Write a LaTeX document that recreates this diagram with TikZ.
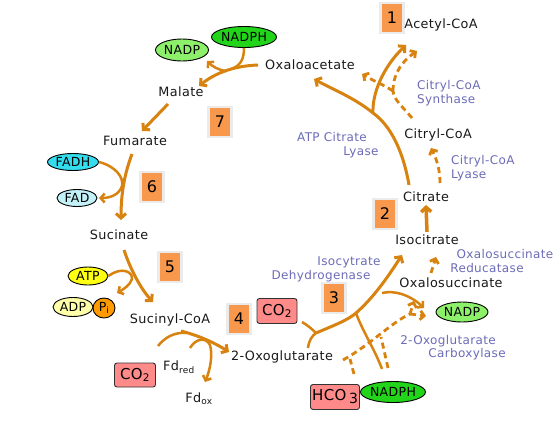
\documentclass[tikz,border=0pt]{standalone}
\usepackage{fontspec}
\setmainfont{DejaVu Sans}[LetterSpace=3]
\usetikzlibrary{arrows.meta,shapes.geometric}
\definecolor{arr}{HTML}{D8820F}
\definecolor{numc}{HTML}{F8984C}
\definecolor{lbl}{HTML}{6C6CB8}
\definecolor{nadpc}{HTML}{8DF06A}
\definecolor{nadphc}{HTML}{22D41A}
\definecolor{fadhc}{HTML}{33DDEE}
\definecolor{fadc}{HTML}{C2F2F8}
\definecolor{atpc}{HTML}{FFFF11}
\definecolor{adpc}{HTML}{FFFFAA}
\definecolor{pic}{HTML}{FF9A00}
\definecolor{co2c}{HTML}{FF8A8A}
\begin{document}
\begin{tikzpicture}[x=1pt,y=-1pt,
  met/.style={inner sep=0pt, font=\fontsize{12.8}{14}\selectfont, text=black!90},
  enz/.style={inner sep=0pt, font=\fontsize{12}{14}\selectfont, text=lbl},
  numbox/.style={fill=numc, draw=black!8, line width=2.5pt, minimum width=23pt, minimum height=30pt, inner sep=0pt, font=\fontsize{16}{18}\selectfont},
  ell/.style={ellipse, draw=black, line width=0.9pt, inner sep=0pt, font=\fontsize{12.5}{13}\selectfont},
  inorg/.style={rectangle, rounded corners=2.5pt, draw=black!80, line width=0.9pt, fill=co2c, inner sep=0pt, font=\fontsize{15}{16}\selectfont},
  flow/.style={draw=arr, line width=3pt, -{Straight Barb[length=4.5pt,width=10pt]}},
  side/.style={draw=arr, line width=2.5pt},
  sideflow/.style={draw=arr, line width=2.5pt, -{Straight Barb[length=4pt,width=9pt]}},
  dflow/.style={draw=arr, line width=2.8pt, dash pattern=on 6pt off 4pt, -{Straight Barb[length=4pt,width=9pt]}},
  dline/.style={draw=arr, line width=2.8pt, dash pattern=on 6pt off 4pt}
]
\fill[white] (0,0) rectangle (554,440);
\useasboundingbox (0,0) rectangle (554,440);

% number boxes
\node[numbox] (n1) at (392,18) {1};
\node[numbox] (n2) at (385,214) {2};
\node[numbox] (n3) at (334,298) {3};
\node[numbox] (n4) at (239,319) {4};
\node[numbox] (n5) at (170,267) {5};
\node[numbox] (n6) at (152,187) {6};
\node[numbox] (n7) at (220,122) {7};

% metabolites
\node[met] (acoa) at (441,25) {Acetyl-CoA};
\node[met] (oaa) at (310,65) {Oxaloacetate};
\node[met] (mal) at (181,92) {Malate};
\node[met] (fum) at (135,141) {Fumarate};
\node[met] (suc) at (119,235) {Sucinate};
\node[met] (scoa) at (170,320) {Sucinyl-CoA};
\node[met] (oxg) at (282,357) {2-Oxoglutarate};
\node[met] (iso) at (427,240) {Isocitrate};
\node[met] (cit) at (426,197) {Citrate};
\node[met] (ccoa) at (438,135) {Citryl-CoA};
\node[met] (oxs) at (451,283) {Oxalosuccinate};
\node[met] (fdr) at (179,367) {Fd\textsubscript{red}};
\node[met] (fdo) at (199,399) {Fd\textsubscript{ox}};

% enzymes
\node[enz, anchor=west, align=left] (ccs) at (417,93) {Citryl-CoA\\Synthase};
\node[enz, anchor=west, align=left] (ccl) at (451,168) {Citryl-CoA\\Lyase};
\node[enz] (acl1) at (332,137) {ATP Citrate};
\node[enz] (acl2) at (361,152) {Lyase};
\node[enz] (idh1) at (349,262) {Isocytrate};
\node[enz] (idh2) at (321,276) {Dehydrogenase};
\node[enz] (osr1) at (505,254) {Oxalosuccinate};
\node[enz] (osr2) at (487,268) {Reducatase};
\node[enz] (ogc1) at (448,341) {2-Oxoglutarate};
\node[enz] (ogc2) at (467,354) {Carboxylase};

% cofactors
\node[ell, fill=nadpc, minimum width=53pt, minimum height=22pt] (nadp1) at (182,50) {NADP};
\node[ell, fill=nadphc, minimum width=53pt, minimum height=21pt] (nadph1) at (244,37) {NADPH};
\node[ell, fill=fadhc, minimum width=51pt, minimum height=17pt] (fadh) at (73,162) {FADH};
\node[ell, fill=fadc, minimum width=40pt, minimum height=17pt] (fad) at (77,198) {FAD};
\node[ell, fill=atpc, minimum width=40pt, minimum height=18pt] (atp) at (88,276) {ATP};
\node[ell, fill=adpc, minimum width=40pt, minimum height=19pt] (adp) at (73,307) {ADP};
\node[ell, fill=pic, minimum width=22pt, minimum height=20pt] (pi) at (104,308) {P\textsubscript{i}};
\node[ell, fill=nadpc, minimum width=52pt, minimum height=20pt] (nadp2) at (462,312) {NADP};
\node[ell, fill=nadphc, minimum width=53pt, minimum height=21pt] (nadph2) at (393,392) {NADPH};

\node[inorg, minimum width=41pt, minimum height=24pt] (co2a) at (135,375) {CO\textsubscript{2}};
\node[inorg, minimum width=40pt, minimum height=25pt] (co2b) at (277,311) {CO\textsubscript{2}};
\node[inorg, minimum width=49pt, minimum height=25pt] (hco3) at (335,397) {HCO\,\raisebox{-3pt}{\fontsize{14}{14}\selectfont 3}};

% 7: OAA -> Malate
\draw[flow] (258,65) .. controls (232,66) and (214,74) .. (199,86);
\draw[side] (nadph1.south) .. controls (244,60) and (240,66) .. (231,69);
\draw[sideflow] (226,71) .. controls (218,70) and (212,66) .. (207,61);
% Malate -> Fumarate
\draw[flow] (168,104) -- (142,131);
% 6: Fumarate -> Sucinate
\draw[flow] (132,154) .. controls (124,175) and (121,195) .. (121,220);
\draw[sideflow] (fadh.east) .. controls (115,166) and (124,177) .. (122,186) .. controls (119,195) and (110,198) .. (99,198);
% 5: Sucinate -> Sucinyl-CoA
\draw[flow] (124,250) .. controls (130,268) and (140,288) .. (153,302);
\draw[sideflow] (atp.east) .. controls (122,266) and (133,272) .. (132,279) .. controls (130,285) and (124,289) .. (117,293);
% 4: Sucinyl-CoA -> 2-Oxoglutarate
\draw[flow] (181,331) .. controls (200,336) and (215,343) .. (229,352);
\draw[side] (158,346) .. controls (165,337) and (175,332) .. (186,333);
\draw[sideflow] (190,348) .. controls (196,338) and (206,337) .. (210,345) .. controls (213,355) and (210,370) .. (205,382);
% 3: 2-Oxoglutarate -> Isocitrate
\coordinate (j1) at (316,333);
\coordinate (j2) at (356,313);
\draw[side] (j1) .. controls (311,328) and (307,325) .. (302,322);
\draw[side] (308,348) .. controls (309,340) and (312,336) .. (j1);
\draw[side, line width=3pt] (j1) .. controls (335,325) and (348,320) .. (j2);
\draw[flow] (j2) .. controls (372,299) and (386,280) .. (402,255);
\draw[side] (382,369) .. controls (375,350) and (362,330) .. (j2);
\draw[sideflow] (382,293) .. controls (395,290) and (410,295) .. (424,308);
% dashed carboxylase route
\draw[dline] (354,374) -- (350,359);
\draw[dline] (343,360) .. controls (370,345) and (392,322) .. (410,314);
\draw[dline] (388,368) -- (381,337);
\draw[dflow] (410,314) -- (414,301);
\draw[dflow] (410,314) -- (426,316);
\draw[dflow] (431,273) -- (436,257);
% 2: Isocitrate -> Citrate
\draw[flow, line width=3.5pt] (iso.north) ++(0,-3) -- (426,205);
\draw[dflow] (440,183) .. controls (440,170) and (437,160) .. (431,148);
% 1: Citrate -> OAA / Acetyl-CoA
\coordinate (j3) at (373,113);
\draw[side, line width=3pt] (409,185) .. controls (403,150) and (390,125) .. (j3);
\draw[flow] (j3) .. controls (355,98) and (330,88) .. (314,79);
\draw[flow] (j3) .. controls (372,95) and (382,68) .. (406,45);
\coordinate (j4) at (393,91);
\draw[dline] (412,118) .. controls (402,106) and (394,100) .. (j4);
\draw[dflow] (j4) .. controls (393,72) and (404,60) .. (417,51);
\draw[dflow] (j4) .. controls (384,85) and (372,80) .. (362,74);
\end{tikzpicture}
\end{document}
